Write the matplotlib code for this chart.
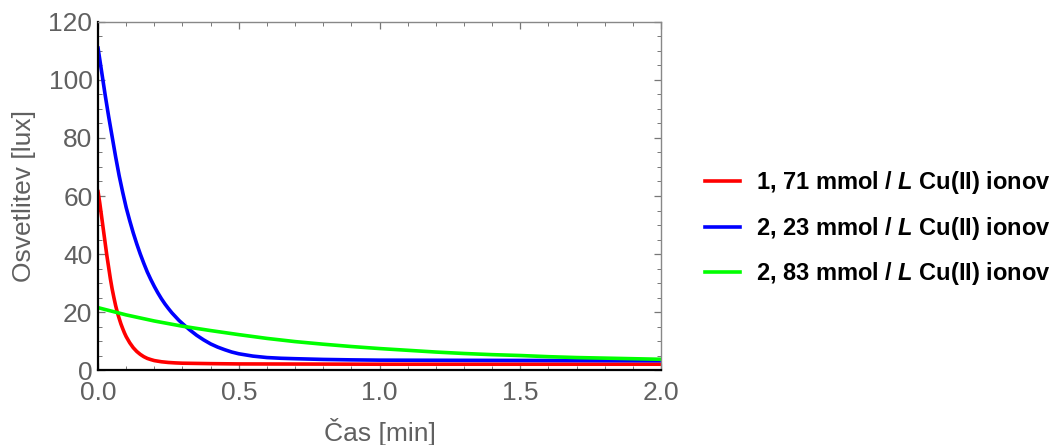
import matplotlib
matplotlib.use("Agg")
import matplotlib.pyplot as plt
from matplotlib.ticker import MultipleLocator, FormatStrFormatter

plt.rcParams['font.family'] = ['Liberation Sans', 'DejaVu Sans']
plt.rcParams['mathtext.fontset'] = 'custom'
plt.rcParams['mathtext.rm'] = 'Liberation Sans:bold'
plt.rcParams['mathtext.it'] = 'Liberation Sans:italic:bold'
plt.rcParams['mathtext.bf'] = 'Liberation Sans:bold'

# Data
red_x = [0.0, 0.00625, 0.0125, 0.01875, 0.025, 0.03125, 0.0375, 0.04375, 0.05, 0.05625, 0.0625,
         0.06875, 0.075, 0.08125, 0.0875, 0.09375, 0.1, 0.1125, 0.125, 0.1375, 0.15, 0.1625,
         0.175, 0.1875, 0.2, 0.225, 0.25, 0.275, 0.3, 0.4, 0.5, 0.75, 1.0, 1.5, 2.0]
red_y = [61.5, 57.5, 53.0, 48.5, 44.0, 39.5, 35.5, 31.5, 28.0, 25.0, 22.2,
         19.8, 17.8, 15.9, 14.3, 12.8, 11.5, 9.4, 7.7, 6.4, 5.4, 4.6,
         4.0, 3.6, 3.25, 2.85, 2.6, 2.45, 2.35, 2.2, 2.1, 2.05, 2.0, 2.0, 2.0]

blue_x = [0.0, 0.0125, 0.025, 0.0375, 0.05, 0.0625, 0.075, 0.0875, 0.1, 0.1125, 0.125, 0.1375,
          0.15, 0.1625, 0.175, 0.1875, 0.2, 0.2125, 0.225, 0.2375, 0.25, 0.2625, 0.275, 0.2875,
          0.3, 0.325, 0.35, 0.375, 0.4, 0.425, 0.45, 0.475, 0.5, 0.55, 0.6, 0.65, 0.7, 0.8, 0.9,
          1.0, 1.25, 1.5, 1.75, 2.0]
blue_y = [111.0, 103.0, 95.0, 87.5, 80.5, 73.5, 67.0, 61.3, 56.0, 51.5, 47.3, 43.5,
          40.0, 36.8, 33.8, 31.2, 28.8, 26.6, 24.6, 22.8, 21.2, 19.7, 18.4, 17.1,
          16.0, 13.9, 12.0, 10.4, 9.0, 7.9, 7.0, 6.2, 5.6, 4.8, 4.3, 4.05, 3.9, 3.65, 3.5,
          3.4, 3.35, 3.3, 3.25, 3.2]

green_x = [0.0, 0.1, 0.2, 0.3, 0.4, 0.5, 0.6, 0.7, 0.8, 0.9, 1.0, 1.1, 1.2, 1.3, 1.4, 1.5, 1.6, 1.7, 1.8, 1.9, 2.0]
green_y = [21.5, 19.0, 16.9, 15.1, 13.6, 12.2, 10.9, 9.8, 8.9, 8.1, 7.4, 6.8, 6.2, 5.7, 5.3, 5.0, 4.6, 4.3, 4.1, 3.9, 3.7]

labels = [r"1, 71 mmol / $L$ Cu(II) ionov",
          r"2, 23 mmol / $L$ Cu(II) ionov",
          r"2, 83 mmol / $L$ Cu(II) ionov"]
colors = ['#ff0000', '#0000ff', '#00ff00']

fig = plt.figure(figsize=(10.52, 4.45), dpi=100)
ax = fig.add_axes([0.0932, 0.1685, 0.5351, 0.7821])

series = [(red_x, red_y), (blue_x, blue_y), (green_x, green_y)]
handles = []
for (xs, ys), c, lab in zip(series, colors, labels):
    h, = ax.plot(xs, ys, color=c, lw=2.6, label=lab, solid_joinstyle='round')
    handles.append(h)

ax.set_xlim(0, 2.0)
ax.set_ylim(0, 120)
ax.xaxis.set_major_locator(MultipleLocator(0.5))
ax.xaxis.set_minor_locator(MultipleLocator(0.1))
ax.yaxis.set_major_locator(MultipleLocator(20))
ax.yaxis.set_minor_locator(MultipleLocator(5))
ax.xaxis.set_major_formatter(FormatStrFormatter('%.1f'))

gray = '#606060'
ax.tick_params(which='both', direction='in', top=True, right=True, colors='#777777',
               labelcolor=gray, labelsize=19)
ax.tick_params(which='major', length=5, width=0.9)
ax.tick_params(which='minor', length=3, width=0.7)
ax.tick_params(axis='x', pad=8)
ax.tick_params(axis='y', pad=4)

for s in ['top', 'right']:
    ax.spines[s].set_color('#888888')
    ax.spines[s].set_linewidth(1.0)
for s in ['left', 'bottom']:
    ax.spines[s].set_color('#000000')
    ax.spines[s].set_linewidth(1.6)

ax.set_xlabel("Čas [min]", fontsize=19, color=gray, labelpad=9)
ax.set_ylabel("Osvetlitev [lux]", fontsize=19, color=gray, labelpad=9)

leg = fig.legend(handles=handles, labels=labels, loc='center left',
                 bbox_to_anchor=(0.650, 0.487), frameon=False,
                 prop={'family': 'Liberation Sans', 'weight': 'bold', 'size': 17},
                 handlelength=1.5, handletextpad=0.65, labelspacing=0.79)

fig.savefig("out.png", dpi=100)
